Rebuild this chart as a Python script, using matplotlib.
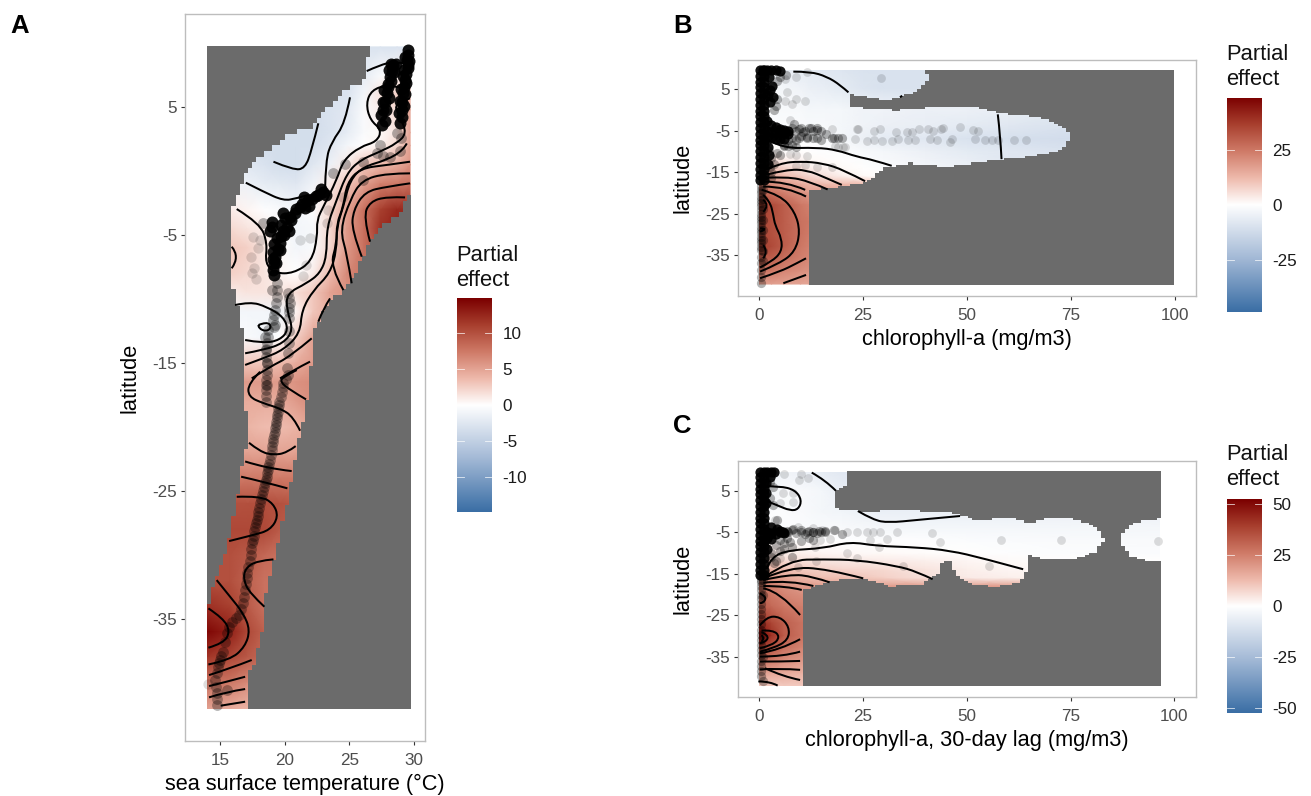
import numpy as np
import matplotlib
matplotlib.use("Agg")
import matplotlib.pyplot as plt
from matplotlib.colors import LinearSegmentedColormap, TwoSlopeNorm
from matplotlib.path import Path
from matplotlib.patches import PathPatch, Rectangle

plt.rcParams['font.family'] = ['Liberation Sans', 'DejaVu Sans']

# ---------- Panel A : partial effect of SST by latitude ----------
a_sst = [14, 15.8, 17.1, 18.4, 19.6, 20.9, 22.2, 23.5, 24.8, 26.1, 27.4, 28.7, 29.7]
a_lat = [9.7, 7.4, 6, 4.8, 3, 2, .5, -1, -3, -4.5, -6, -8, -9.5, -11, -13, -15, -16.5,
         -18, -20, -22, -24, -26, -28, -30, -32, -34, -36, -38, -40, -42]
a_effect = [
 [-3, -3, -3, -3, -3, -3, -3, -3, -3, -3, -3, -3, -3],
 [-3, -3, -3, -3, -3, -3, -3, -3, -3, -2, -.5, .5, 1],
 [-3, -3, -3, -3, -3, -3, -3, -3, -3, -1, 1.5, 2.5, 4],
 [-3, -3, -3, -3, -3.5, -3.5, -3.5, -3, -2.5, -.5, 1, 2, 5],
 [-3, -3, -3, -3.5, -3.5, -3.5, -3.5, -3, -2, -.5, .3, 1.5, 5],
 [-3, -3, -3, -3.5, -3.5, -3.5, -3.5, -2.5, -1, 0, .7, 2, 5],
 [-2, -2.5, -2.5, -3, -3.5, -3.5, -2.5, -1.5, 1, 3, 3.8, 4.5, 6],
 [-1, -1, -1.5, -2, -2.3, -2.5, -1.2, 1, 3, 5, 7, 7.5, 8],
 [1, 1, .5, -.2, -.5, -1, -.2, 2, 5, 8, 11, 12.5, 12],
 [2, 2, 1.5, 1, -.2, -1, -.8, 2, 5.5, 8, 12, 13, 13],
 [3, 3, 2.5, 1.5, .3, -1, -.5, 2, 5.5, 8, 10, 11, 12],
 [2.5, 2.5, 2, 1.5, .5, 0, 1, 3.5, 6.5, 8, 9, 10, 10],
 [1, 1, 1.5, 1.5, 1.5, 1.8, 3, 5, 6, 7, 7, 7, 7],
 [-1, -1, -1, -1, -1.5, .5, 3, 4.5, 5, 5, 5, 5, 5],
 [-.5, -.5, -.5, -1, 0, 2.5, 5, 5, 5, 5, 5, 5, 5],
 [3, 3, 3, 3, 3.5, 4.5, 5.5, 5.5, 5.5, 5.5, 5.5, 5.5, 5.5],
 [5.5, 5.5, 5.5, 5.5, 5.5, 6, 6.5, 6.5, 6.5, 6.5, 6.5, 6.5, 6.5],
 [4.5, 4.5, 4.5, 4.5, 4.5, 5.5, 6.5, 6.5, 6.5, 6.5, 6.5, 6.5, 6.5],
 [4, 4, 4, 3.5, 3.5, 4, 5, 5, 5, 5, 5, 5, 5],
 [5, 5, 5, 5, 5, 5, 5, 5, 5, 5, 5, 5, 5],
 [7.5, 7.5, 7.5, 7.5, 7.5, 7.5, 7.5, 7.5, 7.5, 7.5, 7.5, 7.5, 7.5],
 [10, 10, 10, 10.2, 10, 9.5, 9, 9, 9, 9, 9, 9, 9],
 [10.5, 10.5, 10.5, 10.5, 9.5, 9, 9, 9, 9, 9, 9, 9, 9],
 [10, 10, 9.5, 8.5, 8, 8, 8, 8, 8, 8, 8, 8, 8],
 [10, 10, 9, 8, 8, 8, 8, 8, 8, 8, 8, 8, 8],
 [12, 11, 9.5, 8, 8, 8, 8, 8, 8, 8, 8, 8, 8],
 [14.5, 13, 10.5, 9, 9, 9, 9, 9, 9, 9, 9, 9, 9],
 [11.5, 10.5, 9.5, 8.5, 8.5, 8.5, 8.5, 8.5, 8.5, 8.5, 8.5, 8.5, 8.5],
 [8, 7.5, 6.5, 6.5, 6.5, 6.5, 6.5, 6.5, 6.5, 6.5, 6.5, 6.5, 6.5],
 [5, 4.5, 4, 4, 4, 4, 4, 4, 4, 4, 4, 4, 4],
]
a_edge_sst = [26.55, 26.14, 24.28, 23.25, 22.22, 20.4, 19.38, 17.79, 17.01, 16.5, 16.03, 15.83, 15.78, 15.83,
              16.16, 16.68, 16.94, 16.86, 16.94, 17.19, 16.81, 16.55, 16.29, 16.03, 15.7, 15.39, 14.74, 14.1,
              14.0, 14.0, 17.01, 17.06, 17.63, 18.22, 18.4, 18.87, 19.25, 19.64, 19.9, 20.21, 20.54, 20.8,
              21.14, 21.65, 22.01, 22.09, 22.6, 23.25, 24.28, 25.05, 25.96, 26.6, 27.63, 28.66, 29.69, 29.69]
a_edge_lat = [9.7, 7.1, 6.07, 4.77, 3.47, 2.94, 2.03, .86, -.18, -1.22, -2.78, -4.35, -5.65, -8.25,
              -9.82, -12.16, -13.46, -15.55, -18.15, -20.76, -22.32, -23.88, -25.45, -27.01, -28.57, -30.13, -31.7, -33.78,
              -36.38, -42.06, -42.06, -39.5, -38.47, -36.38, -33.78, -31.7, -30.13, -28.57, -27.01, -25.45, -23.88, -22.32,
              -20.76, -18.15, -15.55, -12.68, -11.9, -10.34, -9.56, -8.77, -6.69, -5.65, -4.09, -3.57, -1.74, 9.7]
a_contours = [
 ([26.34, 27.37, 28.4, 29.44], [7.81, 8.28, 8.54, 8.41]),
 ([19.13, 20.67, 21.57, 22.09, 22.6], [.73, .08, .21, 1.64, 3.73]),
 ([16.99, 18.35, 19.9, 20.93, 21.83], [-.91, -1.61, -2.32, -2.13, -1.87]),
 ([25.05, 24.67, 23.64, 23.17, 23.12], [5.76, 3.73, 2.29, .86, -1.48]),
 ([16.29, 18.1, 18.66, 18.48, 19.26, 20.67, 22.09, 22.53, 22.48, 22.99, 24.02, 24.54, 25.83, 27.12, 27.5, 26.6, 26.29, 26.73, 27.89, 29.69],
  [-2.97, -4.09, -5.65, -7.21, -7.99, -7.99, -7.08, -5.13, -3.83, -2.78, -.7, .86, 1.9, 2.29, 3.21, 3.99, 5.29, 6.33, 6.72, 6.46]),
 ([15.9, 16.55, 15.9], [-5.91, -6.69, -7.6]),
 ([16.16, 17.32, 18.61, 19.9, 20.29, 19.64, 18.35, 16.94], [-10.47, -10.21, -10.6, -11.38, -12.42, -13.2, -13.46, -13.2]),
 ([17.97, 18.61, 19.0, 18.61, 17.97, 17.97], [-12.03, -11.77, -12.16, -12.55, -12.29, -12.03]),
 ([16.94, 18.35, 19.9, 20.67, 20.16, 20.16, 21.7, 22.73, 23.25, 23.25, 24.02, 24.8, 25.83, 27.37, 28.66, 29.44, 28.92, 28.4, 29.69],
  [-14.24, -13.98, -13.46, -12.42, -10.86, -9.56, -8.77, -7.99, -6.69, -4.35, -2.26, -.18, .86, 1.51, 2.16, 2.94, 4.25, 5.29, 5.68]),
 ([16.94, 18.35, 19.9, 21.19, 21.32, 22.22, 23.51, 24.02, 24.02, 24.54, 25.05, 26.08, 27.89, 29.18, 29.44],
  [-15.15, -14.63, -13.98, -12.68, -10.86, -9.3, -7.99, -6.17, -4.35, -2.78, -.7, .34, .86, 1.64, 2.16]),
 ([17.45, 18.87, 20.41, 22.09], [-16.2, -15.28, -14.5, -13.07]),
 ([19.64, 20.67, 21.96], [-16.2, -15.55, -14.89]),
 ([22.6, 22.99, 23.51], [-11.77, -10.73, -9.95]),
 ([24.54, 23.51, 24.02, 24.02, 24.54, 24.8, 25.83, 27.89, 29.69], [-9.3, -7.47, -5.65, -4.09, -2.78, -.96, .21, .47, .73]),
 ([25.18, 24.8, 24.28, 25.05, 25.96, 27.89, 29.69], [-8.77, -6.43, -4.61, -2.26, -.7, -.18, -.18]),
 ([25.96, 25.18, 25.31, 26.21, 27.89, 29.69], [-6.69, -4.61, -3.05, -1.61, -1.22, -.96]),
 ([26.6, 26.08, 26.6, 27.89, 29.31], [-5.52, -3.57, -2.39, -2, -2.06]),
 ([18.1, 17.19, 17.19, 18.35, 19.64, 20.67, 21.19], [-15.68, -16.59, -17.63, -18.15, -18.54, -19.2, -20.29]),
 ([20.93, 19.9, 19.64, 20.41, 21.65], [-15.55, -16.07, -16.46, -17.11, -17.84]),
 ([17.24, 18.1, 19.13, 20.16, 20.85], [-21.23, -21.93, -22.19, -22.01, -21.49]),
 ([16.94, 18.61, 20.54], [-22.69, -23.23, -23.44]),
 ([16.63, 18.35, 20.21], [-23.88, -24.27, -24.79]),
 ([16.29, 18.1, 19.13, 19.51, 18.87, 17.58, 15.7], [-25.45, -25.39, -25.97, -27.01, -28.05, -28.44, -28.91]),
 ([19.13, 17.84, 16.94, 16.81, 17.32, 18.43], [-30.34, -30.45, -31.05, -31.96, -33, -34.04]),
 ([14.74, 15.78, 16.81, 17.32, 16.94, 15.78, 14.1], [-31.96, -33.26, -34.56, -35.86, -37.16, -38.2, -38.55]),
 ([14.1, 15.26, 15.78, 15.26, 14.1], [-34.17, -34.95, -35.99, -36.9, -37.24]),
 ([14.15, 15.78, 17.45], [-39.38, -38.86, -38.2]),
 ([14.15, 15.52, 16.94], [-40.24, -39.9, -39.51]),
 ([14.15, 15.52, 16.94], [-41.12, -40.68, -40.47]),
 ([15.05, 16.94], [-41.77, -41.46]),
]
a_dense_sst = [29.56, 29.5, 29.44, 29.5, 29.56, 29.4, 29.31, 29.25, 29.18, 29.1, 29.05, 28.92,
               28.4, 28.3, 28.15, 28.0, 27.89, 27.75, 27.63, 27.5,
               23, 22.4, 21.83, 21.57, 21.2, 20.8, 20.4, 19.9, 20.16, 19.95, 19.0, 19.64, 19.45, 19.26, 19.13, 19.2,
               29.3, 29.6, 29.2, 29.15, 29.4, 29.0, 29.3, 28.95, 29.2, 28.85, 29.1,
               28.6, 28.2, 28.45, 28.05, 28.2, 27.95, 27.7, 28.05, 27.6, 27.85, 27.45, 27.75,
               22.8, 23.2, 22.6, 22.1, 21.5, 21.3, 21.9, 20.9, 20.5, 20.0, 20.3, 19.9, 19.7, 19.0, 18.9, 19.7, 19.4, 19.2, 19.6, 19.1, 19.3, 19.1, 19.15]
a_dense_lat = [9.45, 9.05, 8.67, 8.3, 8.02, 7.6, 7.11, 6.6, 6.07, 5.4, 4.77, 3.73,
               8.28, 7.8, 7.37, 6.8, 6.07, 5.4, 4.77, 3.6,
               -1.61, -1.95, -2.26, -2.91, -2.8, -3.3, -3.6, -3.3, -4.35, -5.0, -4.35, -5.65, -6.1, -6.69, -7.73, -7.2,
               8.9, 8.6, 7.9, 7.4, 6.9, 6.4, 6, 5.5, 5.1, 4.5, 4.2,
               8.4, 8.4, 7.7, 7.9, 7, 6.6, 6.3, 5.7, 5.4, 4.8, 4.4, 3.9,
               -1.4, -1.9, -1.9, -2.2, -2, -2.6, -2.7, -3.0, -3.8, -3.7, -4.7, -4.7, -4.2, -4.0, -4.7, -5.1, -5.2, -5.7, -6.2, -6.3, -7.2, -6.9, -8.1]
a_mid_sst = [27.12, 28.15, 26.08, 26.08, 24.67, 23.76, 18.35, 28.66, 27.37, 27.6, 28.9, 29.0,
             19.38, 19.38, 19.26, 19.13, 19.26, 18.74, 18.61, 18.56, 18.66, 18.56, 18.56, 18.56, 18.5, 18.55, 18.6, 19.0, 18.6,
             20.29, 20.41, 20.3, 20.29, 20.16, 20.29, 19.9, 19.77, 19.59, 19.51, 19.44, 19.33, 19.26, 19.18, 19.07, 19, 18.87,
             18.74, 18.66, 18.53, 18.4, 18.25, 18.1, 17.97, 17.84, 17.71, 17.6, 17.45, 17.37, 17.28, 17.19, 17.06, 16.94,
             16.81, 16.5, 15.9, 15.52, 15.21, 15, 14.87, 14.62, 14.74, 14.74, 15.52,
             20.1, 19.84, 19.68, 19.55, 19.47, 19.38, 19.3, 19.22, 19.12, 19.03, 18.93, 18.8, 18.7, 18.6, 18.46, 18.32, 18.18,
             18.03, 17.9, 17.77, 17.65, 17.52, 17.41, 17.12, 17, 16.87, 16.65, 16.2, 15.7, 15.36, 15.1, 14.93, 14.75, 14.68, 14.74,
             19.38, 19.32, 19.2, 19.2, 18.68, 18.58, 18.61, 18.6, 18.56, 18.56, 20.35, 20.35, 20.35, 20.3, 20.3]
a_mid_lat = [1.4, 1.13, .73, -.7, .58, -.18, -4.09, 2.94, 2.0, 1.2, 1.6, 2.6,
             -8.77, -9.82, -10.86, -11.64, -12.03, -12.42, -13.46, -14.5, -15.55, -16.33, -17.11, -18.02, -13.0, -13.9, -15.0, -9.3, -16.7,
             -9.56, -10.34, -11.0, -14.24, -15.42, -15.94, -16.59, -17.24, -18.02, -18.54, -19.07, -19.59, -20.11, -20.63, -21.15, -21.8, -22.58,
             -23.1, -23.62, -24.14, -24.66, -25.32, -25.97, -26.62, -27.27, -27.79, -28.5, -29.09, -30, -30.5, -30.91, -31.83, -32.74,
             -33.78, -34.69, -35.21, -36.12, -37.55, -38.2, -38.73, -39.77, -40.81, -41.72, -40.55,
             -16.27, -16.9, -17.63, -18.28, -18.8, -19.33, -19.85, -20.37, -20.9, -21.47, -22.2, -22.85, -23.36, -23.88, -24.4, -25, -25.65,
             -26.3, -26.95, -27.53, -28.15, -28.8, -29.55, -31.37, -32.3, -33.26, -34.23, -34.95, -35.66, -36.83, -37.88, -38.47, -39.25, -40.3, -41.27,
             -9.3, -10.34, -11.25, -12.2, -12.95, -14, -15, -15.95, -16.72, -17.56, -9.95, -10.7, -11.5, -12.5, -13.4]
a_light_sst = [21.19, 21.96, 21.65, 21.4, 17.58, 18.1, 17.97, 17.37, 17.63, 17.45, 17.79, 23.25, 23.38, 24.54, 14.05]
a_light_lat = [-5.39, -5.26, -7.34, -8.2, -5.13, -5.39, -6.04, -6.69, -7.6, -7.99, -8.46, -4.09, -3.05, -2, -40.1]

# ---------- Panel B : partial effect of chlorophyll-a ----------
b_chl = [0, 3, 6, 10, 12, 16, 20, 25, 30, 40, 50, 60, 75, 100]
b_lat = [10, 5, 0, -4, -7, -10, -12, -14, -16, -18, -20, -23, -27, -30, -33, -36, -39, -42]
b_effect = [
 [-2, -3, -5, -7, -7, -8, -9, -10, -10, -10, -10, -10, -10, -10],
 [-2, -2, -3, -4, -5, -6, -7, -9, -10, -10, -10, -10, -10, -10],
 [-1, -1, -2, -2, -3, -3, -3, -4, -4, -5, -5, -6, -8, -8],
 [0, -1, -1, -1.5, -2, -2, -3, -4, -5, -6, -7, -8, -10, -10],
 [0, 0, -.5, -1, -1, -2, -3, -5, -7, -8, -10, -11, -12, -12],
 [3, 1, 0, 0, 0, -.5, -1, -2, -3, -5, -7, -8, -10, -10],
 [8, 5, 3, 2, 1, .5, 0, -1, -2, -4, -6, -8, -8, -8],
 [12, 10, 7, 5, 3, 2, 1, 0, -1, -3, -5, -7, -7, -7],
 [18, 15, 12, 9, 7, 5, 3, 1, 0, 0, 0, 0, 0, 0],
 [24, 21, 18, 15, 13, 12, 12, 12, 12, 12, 12, 12, 12, 12],
 [28, 26, 23, 20, 18, 18, 18, 18, 18, 18, 18, 18, 18, 18],
 [36, 34, 30, 25, 23, 23, 23, 23, 23, 23, 23, 23, 23, 23],
 [35, 33, 30, 26, 25, 25, 25, 25, 25, 25, 25, 25, 25, 25],
 [34, 33, 30, 26, 24, 24, 24, 24, 24, 24, 24, 24, 24, 24],
 [36, 34, 30, 25, 23, 23, 23, 23, 23, 23, 23, 23, 23, 23],
 [30, 29, 26, 23, 22, 22, 22, 22, 22, 22, 22, 22, 22, 22],
 [24, 24, 22, 20, 19, 19, 19, 19, 19, 19, 19, 19, 19, 19],
 [17, 17, 17, 16, 16, 16, 16, 16, 16, 16, 16, 16, 16, 16],
]
b_edge_chl = [0, 39.5, 40.7, 40.3, 37.9, 33.9, 30.7, 26.7, 21.9, 21.9, 33.1, 41.9, 52.3, 57.9, 67.6, 72.4, 74.9,
              73.9, 70.8, 65.2, 58.3, 54.7, 45.9, 39.5, 36.3, 30.7, 27.5, 25.1, 20.3, 16.3, 11.6, 11.6, 0]
b_edge_lat = [9.6, 9.6, 8.4, 6.4, 4.76, 3.15, 2.35, 2.9, 3.95, .74, -.06, .74, .74, -.87, -1.83, -3.68, -6.09,
              -8.5, -10.1, -11.3, -11.9, -12.5, -13.55, -13.3, -12.9, -13.7, -16.1, -17.5, -18.4, -19.1, -19.3, -42.1, -42.1]
b_contours = [
 ([8.25, 12.3, 16.3, 19.5, 21.5], [9.2, 9.2, 8, 6, 4.2]),
 ([57.4, 58, 58.3], [-1.1, -6.1, -11.9]),
 ([33.9, 34.4], [3, 3.4]),
 ([2.65, 5.85, 13.9, 18.7, 23.5, 27.5, 31.9], [-7.5, -9.3, -9.1, -9.7, -11.3, -12.1, -13.5]),
 ([1.45, 5.05, 9.9, 15.5, 20.3, 25.5], [-14.5, -12.9, -12.4, -12.9, -14.5, -17.2]),
 ([1.45, 6.65, 11.5, 16.3, 19.9], [-15.7, -14.4, -14.5, -16.5, -18.1]),
 ([1.45, 6.65, 12.3, 16.5], [-16.4, -16.1, -17.3, -19.2]),
 ([1, 6.65, 11.1], [-17.3, -17.3, -19.3]),
 ([1, 6.65, 11.3], [-18.5, -18.5, -20.9]),
 ([.65, 5.05, 8.65, 9.9, 8.65, 5.05, .25], [-19.3, -20.5, -24.6, -29.4, -34.2, -37, -39]),
 ([1, 2.65, 3.45, 3.85, 5.45, 5.45, 3.05, .25], [-20.5, -22.1, -25.4, -27.8, -31, -34.2, -36.6, -38]),
 ([1, 2.65, 1], [-21.7, -23, -24.6]),
 ([.25, 2.25, .25], [-28.6, -28.6, -29.4]),
 ([1, 2.25, 1], [-32.6, -34.2, -35.8]),
 ([.25, 5.05, 9.05, 11.3], [-40.6, -39, -37, -35.8]),
 ([5.85, 11.3], [-41.8, -39.8]),
]
b_column_chl = [.2, 1.2]
b_column_lat = [9.6, 8.2, 6.8, 5.4, 4, 2.6, 1.2, -.2, -1.6, -3, -4.4, -5.8, -7.2, -8.6, -10, -11.4, -12.8, -14.2, -15.6, -17]
b_dense_chl = [1, 2, 3, 4, 5, 2.4, 3.2, 2.65, 3.45, 2.6, 2.2, 2, 3, 4, 5, 6, 7, 2, 3, 4, 5, 6, 7, 2, 3, 4, 5, 6, 2.2, 2.4, 2.2]
b_dense_lat = [9.6, 9.6, 9.6, 9.6, 9.4, 8, 5.8, 4.8, 3.15, 1.9, 3.5, -2.8, -3.6, -4.2, -4.6, -4.8, -5, -5.2, -5.4, -5.6, -5.6, -5.6, -5.8, -6.6, -6.8, -7, -7, -7, -9, -11, -13]
b_mid_chl = [4.25, 5.05, 4.25, 6.5, 9.5, 9.5, 12.5, 14, 11.5, 14, 17.5, 20, 7, 8.5, 10.5, 3, 2.5, 4.25, 2.7, 5, 6,
             .4, .4, .4, .4, .4, .4, .4, .4, .4, .4, .4, .4, .4, .9, .9, .9, .9, .9, .9, .9, .9, 3, 3.5, 3, 3.5, 4,
             8, 9, 10, 11, 12, 13, 14, 15, 8, 9, 10, 11.5, 13, 15, 16, 18, 19, 6, 7, 8, 9,
             .4, .4, .4, .4, .4, .4, .4, .4, .4, .4, .4, .4]
b_mid_lat = [7, 8, 2.5, 8.5, -4.6, -6.7, -4.3, -4.8, -6.8, -6.7, -6.7, -6.7, -7.2, -3.4, -5.4, -11.5, -10, -10.5, -13.8, -10.8, -8.8,
             -19.3, -20.9, -22.5, -24.2, -25.8, -27.4, -29, -30.6, -32.2, -33.8, -35.4, -37, -38.6, -19.3, -21.5, -24, -26.5, -29, -31.5, -34, -36.5, -15, -13, -16.5, 0, 1,
             -4.3, -5, -4.4, -5, -4.4, -5.2, -4.5, -5, -6.8, -7.2, -6.4, -6.5, -6.9, -7.2, -5.8, -6.9, -6.7, -8.4, -8.8, -8.5, -8.9,
             -18.4, -20.1, -21.7, -23.3, -25, -26.6, -28.2, -29.8, -31.4, -33, -40.2, -41.8]
b_light_chl = [29.3, 11.5, 9, 6.25, 11, 8.8, 6.25, 7.9, 6.65, 7.5, 48.3, 51.5, 52.7, 51.9, 61.2, 64.2, 57.5, 55.9, 54.3, 44.3, 43.7, 46.5, 45.9,
               42.7, 41.9, 41, 40.7, 38.5, 36.7, 37.5, 35.5, 35.9, 33, 33.5, 31.9, 29.5, 29, 27.7, 27.7, 23.8, 23, 26, 20.7, 18.3, 18.9, 20.3, 17.6, 23.5, 11, 9, 14, 17.5, 7.5, 11.5, 9]
b_light_lat = [7.6, 9.2, 8, 7.5, 2, 2.5, 2, 1.5, 4.4, -2.5, -4.1, -4.9, -5.1, -7, -7.2, -7.2, -7.2, -7.2, -7.2, -4.3, -4.6, -7, -7.7,
               -7.2, -5.2, -7, -4.6, -4.6, -5.3, -7.2, -5.3, -7.2, -5.3, -7, -7.6, -7.6, -4.6, -5, -7.2, -4.6, -7.1, -7.5, -9, -8.7, -9, -9, -4.6, -4.6, -13.3, -13.5, -13.8, -13.7, -10.6, -11.2, -11]

# ---------- Panel C : partial effect of lagged chlorophyll-a ----------
c_chl = [0, 3, 6, 10, 15, 20, 30, 40, 50, 60, 75, 100]
c_lat = [10, 5, 0, -4, -7, -10, -12, -14, -16, -18, -20, -23, -27, -30, -33, -36, -39, -42]
c_effect = [
 [-8, -5, -4, -5, -7, -9, -9, -9, -9, -9, -9, -9],
 [-4, -3, -2, -2, -3, -6, -7, -7, -7, -7, -7, -7],
 [-2, -1, -1, -2, -3, -4, -6, -6, -6, -6, -5, -5],
 [0, -1, -1, -1, -2, -2, -3, -3, -3, -3, -3, -3],
 [1, .5, .5, .3, .3, -.3, -.5, -.5, -1, -1.5, -2, -2],
 [5, 4, 3, 2.5, 2, 1.5, 1, .5, 0, -.5, -1, -1.5],
 [10, 9, 7, 6, 5, 4.5, 4, 3, 2, 1, 0, 0],
 [16, 14, 12, 10, 9, 8, 7, 5, 3, 2, 1, 1],
 [24, 20, 17, 14, 12, 12, 9, 6, 4, 3, 2, 2],
 [28, 25, 22, 19, 19, 19, 19, 19, 19, 19, 19, 19],
 [30, 27, 24, 22, 22, 22, 22, 22, 22, 22, 22, 22],
 [33, 30, 27, 25, 25, 25, 25, 25, 25, 25, 25, 25],
 [45, 38, 32, 28, 28, 28, 28, 28, 28, 28, 28, 28],
 [52, 42, 33, 28, 28, 28, 28, 28, 28, 28, 28, 28],
 [40, 33, 28, 24, 24, 24, 24, 24, 24, 24, 24, 24],
 [28, 26, 22, 20, 20, 20, 20, 20, 20, 20, 20, 20],
 [18, 17, 16, 15, 15, 15, 15, 15, 15, 15, 15, 15],
 [10, 10, 10, 10, 10, 10, 10, 10, 10, 10, 10, 10],
]
c_edge_chl = [0, 21, 21.8, 20.7, 18.3, 18.1, 25.1, 35.6, 46, 49.2, 52.4, 57.3, 62.1, 65.3, 69.3, 76.5, 80.5, 83, 80.5, 74.9, 69.3, 64.9,
              64.5, 62.9, 57.3, 51.6, 47.6, 46, 44, 43.6, 38.8, 31.6, 25.1, 20.3, 17.1, 10.3, 10.3, 0]
c_edge_lat = [9.67, 9.67, 7.66, 6.05, 4.84, .8, 0, .25, -.23, -1.2, -2.4, -1.84, -2, -3, -1.84, -2, -3.6, -6.8, -10, -11.66, -11.8, -10.7,
              -14.1, -16.9, -18.3, -17.7, -15.7, -12.07, -12.07, -14.9, -17.7, -18.1, -16.1, -16.3, -16.9, -19.3, -42.1, -42.1]
c_island_chl = [96.7, 90.2, 87, 87, 89.4, 92.6, 96.7]
c_island_lat = [-1.84, -2.65, -5.6, -8, -10.9, -11.9, -11.9]
c_contours = [
 ([12.7, 15.9, 18.5], [9.45, 7.66, 5.08]),
 ([.2, 5.05, 8.7, 10.3, 9.5, 7.5, 4.25, .2], [6.2, 6.2, 5.25, 2.83, .57, .25, 1.62, 3.23]),
 ([23.8, 27.5, 31.2, 38, 48.4], [.17, -2, -2.65, -2, -1.04]),
 ([1.84, 3.04, 7.46, 15.5, 21.9, 28.3, 38, 46, 54, 63.6], [-13.7, -10.85, -9.25, -8.85, -7.24, -8.28, -8.6, -9.4, -11.26, -13.9]),
 ([1.44, 7.46, 15.5, 23.5, 33.2, 38, 41.8], [-15.7, -11.65, -11.5, -11.65, -13.1, -14.5, -16.3]),
 ([1.03, 7.46, 16.3, 25.1], [-16.1, -13.4, -13.8, -16.1]),
 ([1.03, 7.46, 13.1, 17], [-16.5, -15.05, -15.7, -17.06]),
 ([1.03, 7.46, 13.1], [-17.14, -16.5, -17.95]),
 ([1.03, 6.65, 10.3], [-17.95, -17.95, -18.9]),
 ([1.03, 5.05, 9.9], [-18.5, -19.3, -24.95]),
 ([.2, 1.84, 1.03, .2], [-19.7, -20.5, -22.1, -22.1]),
 ([.2, 1.84, 5.05, 7.3, 7.06, 3.44, .2], [-27.5, -25.35, -25.35, -27.8, -31, -33, -33.8]),
 ([.6, 3.44, 5.05, 3.44, .2], [-28.7, -28.6, -30.2, -32.2, -33]),
 ([.6, 2.24, 1.84, .2], [-29.1, -29.8, -31.4, -31.8]),
 ([.6, 1.44, .6], [-29.8, -30.6, -31.4]),
 ([.2, 5.05, 9.9], [-34.2, -33.4, -30.8]),
 ([.2, 5.85, 9.9], [-35, -35, -33.8]),
 ([.2, 5.85, 9.9], [-36.2, -36.2, -36.05]),
 ([.2, 5.05, 9.9], [-38.1, -37.8, -38.2]),
 ([1.44, 5.85, 9.9], [-37.8, -39.85, -40.65]),
 ([-.16, 2.64, 4.5], [-41, -41, -42]),
]
c_column_chl = [.2, 1.1]
c_column_lat = [9.7, 8.4, 7, 5.6, 4.2, 2.8, 1.4, 0, -1.4, -2.8, -4.2, -5.6, -7, -8.4, -9.8, -11.2, -12.6, -14, -15.4]
c_dense_chl = [2, 3, 3.6, 2.6, 1.8, 1.8, 1.8, 3, 4.25, 5, 5.85, 2, 3, 4, 5, 6, 2, 3, 2, 2.6]
c_dense_lat = [9.67, 9.67, 9.5, 8.46, 7, 4.44, 2.02, -3.8, -4.2, -4.6, -4.8, -5, -5.2, -5.4, -5, -5.2, -6.4, -6.6, -9, -5.3]
c_mid_chl = [2.64, 3.44, 2.64, 3.44, 5.85, 6.65, 8.26, 10, 11.5, 13, 14.5, 16, 18, 20, 5, 6.65, 7.5, 10, 12, 13, 4.25, 3, 6, 8,
             .4, .4, .4, .4, .4, .4, .4, .4, .4, .4, .4, .9, .9, .9, .9,
             7, 8, 9, 10, 11, 12, 13, 14, 15, 16, 4, 5, 6, 8, 3, 3.5, 4,
             .4, .4, .4, .4, .4, .4, .4, .4, .4, .4, .4]
c_mid_lat = [7.26, 6.0, 3.2, 1.6, -4.8, -4.6, -4.2, -4.8, -5, -5, -4.6, -5, -4.4, -5.4, -6.8, -6.4, -7.3, -7, -6.4, -6.9, -1.9, -10, -9, -11,
             -15.5, -17, -19, -21, -23.5, -26, -28.5, -31, -33.5, -36, -38.5, -16.5, -20, -35, -40.9,
             -5, -4.3, -5.2, -4.4, -5.4, -4.6, -4.9, -5.2, -5, -4.6, -8, -9.5, -7.5, -8.5, -11, -12.5, -12,
             -16.5, -18, -20, -22.3, -24.7, -27.2, -29.8, -32.2, -34.7, -37.2, -39.7]
c_light_chl = [6, 10, 9.7, 11.9, 8.3, 5.85, 8.3, 5.05, 3.85, 9.5, 13.1, 15.1, 18.3, 21.1, 23.5, 26, 27.5, 29.2, 33.2, 30.8, 28.8, 26.7, 17.1, 14.7,
               13.5, 21.1, 23.5, 13.8, 34.6, 41.7, 43.6, 58.2, 72.8, 96, 55.3, 5.05, 9.5]
c_light_lat = [9.1, 9.1, 7.66, 8.06, 4.44, 4.44, 2.42, 2, -2, -3.6, -4, -4.4, -4.4, -4.8, -4.8, -4.8, -4.8, -4.8, -4.8, -6.7, -8.6, -6.8, -6.7, -6.8,
               -8.6, -10, -11.3, -12, -13.1, -5.2, -7.3, -6.8, -6.8, -7, -13.1, -11.3, -13.3]

# ---------- tick and legend values ----------
a_xticks = [15, 20, 25, 30]
a_yticks = [5, -5, -15, -25, -35]
bc_xticks = [0, 25, 50, 75, 100]
bc_yticks = [5, -5, -15, -25, -35]
a_legend = [10, 5, 0, -5, -10]
b_legend = [25, 0, -25]
c_legend = [50, 25, 0, -25, -50]

W, H = 1311, 796
fig = plt.figure(figsize=(W / 100, H / 100), dpi=100, facecolor='white')
cmap = LinearSegmentedColormap.from_list('pe', [
    (0.0, '#3a6ea5'), (0.25, '#a3b9d6'), (0.5, '#ffffff'),
    (0.625, '#eeb9ab'), (0.75, '#cf7a67'), (0.875, '#a83f2e'), (1.0, '#7b0000')])
GREY = '#6b6b6b'


def px_axes(l, t, r, b):
    return fig.add_axes([l / W, 1 - b / H, (r - l) / W, (b - t) / H])


def smooth(xs, ys):
    pts = np.column_stack([xs, ys])
    verts, codes = [pts[0]], [Path.MOVETO]
    for i in range(1, len(pts) - 1):
        end = pts[i + 1] if i == len(pts) - 2 else (pts[i] + pts[i + 1]) / 2
        verts += [pts[i], end]
        codes += [Path.CURVE3, Path.CURVE3]
    if len(pts) == 2:
        verts.append(pts[1]); codes.append(Path.LINETO)
    return Path(verts, codes)


def panel(frame, xlim, ylim, rect, xvals, yvals, zvals, vmax, outlines, grid, contours,
          dense, mid, light, xticks, yticks, xlabel, size):
    ax = px_axes(*frame)
    ax.set_xlim(*xlim); ax.set_ylim(*ylim)
    x0, x1, y0, y1 = rect
    norm = TwoSlopeNorm(vcenter=0, vmin=-vmax, vmax=vmax)
    ax.pcolormesh(xvals, yvals, np.array(zvals, float), shading='gouraud', cmap=cmap, norm=norm,
                  zorder=1, rasterized=True)
    for r in [(xlim[0], ylim[0], x0 - xlim[0], ylim[1] - ylim[0]), (x1, ylim[0], xlim[1] - x1, ylim[1] - ylim[0]),
              (xlim[0], y1, xlim[1] - xlim[0], ylim[1] - y1), (xlim[0], ylim[0], xlim[1] - xlim[0], y0 - ylim[0])]:
        ax.add_patch(Rectangle(r[:2], r[2], r[3], fc='white', ec='none', zorder=1.5))
    nx, ny = grid
    gx = x0 + (np.arange(nx) + .5) * (x1 - x0) / nx
    gy = y0 + (np.arange(ny) + .5) * (y1 - y0) / ny
    XX, YY = np.meshgrid(gx, gy)
    inside = np.zeros(XX.shape, bool)
    q = np.column_stack([XX.ravel(), YY.ravel()])
    for ox, oy in outlines:
        inside |= Path(np.column_stack([ox, oy])).contains_points(q).reshape(XX.shape)
    overlay = np.zeros(XX.shape + (4,))
    overlay[..., :3] = matplotlib.colors.to_rgb(GREY)
    overlay[..., 3] = (~inside).astype(float)
    ax.imshow(overlay, extent=(x0, x1, y0, y1), origin='lower', interpolation='nearest',
              aspect='auto', zorder=2)
    ax.set_xlim(*xlim); ax.set_ylim(*ylim)
    ax.scatter(*light, s=size, c='black', alpha=.13, lw=0, zorder=3)
    ax.scatter(*mid, s=size * 1.1, c='black', alpha=.3, lw=0, zorder=3)
    ax.scatter(*dense, s=size * 1.35, c='black', alpha=.92, lw=0, zorder=3)
    for cx, cy in contours:
        ax.add_patch(PathPatch(smooth(cx, cy), fc='none', ec='black', lw=1.45, zorder=4, capstyle='butt'))
    ax.set_xticks(xticks); ax.set_yticks(yticks)
    ax.set_yticklabels([str(v) for v in yticks])
    ax.tick_params(length=3.2, width=.8, color='#333333', labelcolor='#4d4d4d', labelsize=12.3, pad=2.5)
    ax.tick_params(axis='x', pad=5.5)
    ax.set_xlabel(xlabel, fontsize=15.7, labelpad=4)
    ax.set_ylabel('latitude', fontsize=15.7, labelpad=8.5)
    for s in ax.spines.values():
        s.set_color('#bdbdbd'); s.set_linewidth(1.0)
    return ax


def legend(l, t, r, b, vmax, ticks, title_x, title_y):
    ax = px_axes(l, t, r, b)
    grad = np.linspace(-vmax, vmax, 256)[:, None]
    ax.imshow(grad, extent=(0, 1, -vmax, vmax), origin='lower', aspect='auto', cmap=cmap,
              norm=TwoSlopeNorm(vcenter=0, vmin=-vmax, vmax=vmax))
    for s in ax.spines.values():
        s.set_visible(False)
    ax.set_xticks([])
    ax.yaxis.tick_right()
    ax.set_yticks(ticks)
    ax.set_yticklabels([str(v) for v in ticks])
    ax.tick_params(length=0, labelsize=12.3, pad=7.5, labelcolor='#1a1a1a')
    for v in ticks:
        ax.plot([0, .2], [v, v], color='white', lw=.6, alpha=.8)
        ax.plot([.8, 1], [v, v], color='white', lw=.6, alpha=.8)
    ax.set_xlim(0, 1); ax.set_ylim(-vmax, vmax)
    fig.text(title_x / W, 1 - title_y / H, 'Partial\neffect', fontsize=15.8, va='top', ha='left',
             linespacing=1.22, color='#111111')


b_cols, b_rows = np.meshgrid(b_column_chl, b_column_lat)
c_cols, c_rows = np.meshgrid(c_column_chl, c_column_lat)

panel((185, 14, 425, 741), (12.29, 30.85), (-44.53, 12.27), (13.98, 29.75, -42.0, 9.77),
      a_sst, a_lat, a_effect, 14.86, [(a_edge_sst, a_edge_lat)], (50, 120), a_contours,
      (a_dense_sst, a_dense_lat), (a_mid_sst, a_mid_lat), (a_light_sst, a_light_lat),
      a_xticks, a_yticks, 'sea surface temperature (°C)', 55)

panel((738, 60, 1196, 296), (-5.05, 105.05), (-44.88, 12), (0, 99.7, -42.2, 9.6),
      b_chl, b_lat, b_effect, 48.6, [(b_edge_chl, b_edge_lat)], (100, 100), b_contours,
      (np.r_[b_cols.ravel(), b_dense_chl], np.r_[b_rows.ravel(), b_dense_lat]),
      (b_mid_chl, b_mid_lat), (b_light_chl, b_light_lat),
      bc_xticks, bc_yticks, 'chlorophyll-a (mg/m3)', 40)

panel((738, 461, 1196, 697), (-5.05, 105.2), (-44.76, 12.25), (0, 96.6, -42.1, 9.67),
      c_chl, c_lat, c_effect, 52.4, [(c_edge_chl, c_edge_lat), (c_island_chl, c_island_lat)], (100, 100), c_contours,
      (np.r_[c_cols.ravel(), c_dense_chl], np.r_[c_rows.ravel(), c_dense_lat]),
      (c_mid_chl, c_mid_lat), (c_light_chl, c_light_lat),
      bc_xticks, bc_yticks, 'chlorophyll-a, 30-day lag (mg/m3)', 40)

legend(457, 298, 492, 512, 14.86, a_legend, 456, 245)
legend(1227, 98, 1262, 312, 48.6, b_legend, 1226, 44)
legend(1227, 499, 1262, 713, 52.4, c_legend, 1226, 444)

for txt, x, y in [('A', 10, 26), ('B', 673, 26), ('C', 673, 426)]:
    fig.text(x / W, 1 - y / H, txt, fontsize=18.5, fontweight='bold', va='center', ha='left')

fig.savefig('out.png', dpi=100)
